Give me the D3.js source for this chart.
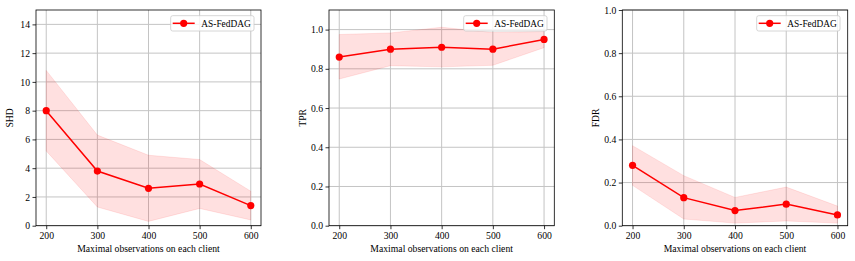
<!DOCTYPE html>
<html><head><meta charset="utf-8">
<script src="https://cdn.jsdelivr.net/npm/d3@7"></script>
<style>body{margin:0;background:#fff}svg{display:block}svg text{font-family:"Liberation Serif","Times New Roman",serif !important;fill:#000}</style>
</head><body><svg id="c" width="855" height="261"></svg>
<script>
const xValues = [200, 300, 400, 500, 600];
const seriesName = "AS-FedDAG";
const shdMean = [8.0, 3.8, 2.6, 2.9, 1.4];
const shdUpper = [10.8, 6.3, 4.9, 4.6, 2.4];
const shdLower = [5.2, 1.3, 0.3, 1.2, 0.4];
const tprMean = [0.86, 0.90, 0.91, 0.90, 0.95];
const tprUpper = [0.975, 0.983, 1.012, 0.985, 0.99];
const tprLower = [0.748, 0.816, 0.81, 0.818, 0.908];
const fdrMean = [0.28, 0.13, 0.07, 0.10, 0.05];
const fdrUpper = [0.371, 0.232, 0.131, 0.179, 0.091];
const fdrLower = [0.187, 0.031, 0.012, 0.022, 0.012];
const shdTicks = [0, 2, 4, 6, 8, 10, 12, 14];
const tprTicks = [0.0, 0.2, 0.4, 0.6, 0.8, 1.0];
const fdrTicks = [0.0, 0.2, 0.4, 0.6, 0.8, 1.0];
const xLabel = "Maximal observations on each client";

const FS = 9.7;
const panels = [
  {left:36, right:261, ymax:15, label:"SHD", mean:shdMean, up:shdUpper, lo:shdLower, ticks:shdTicks, fmt:d3.format("d"), labelX:10, legendRight:254},
  {left:329, right:554.3, ymax:1.1, label:"TPR", mean:tprMean, up:tprUpper, lo:tprLower, ticks:tprTicks, fmt:d3.format(".1f"), labelX:303, legendRight:547},
  {left:622.3, right:847.7, ymax:1.0, label:"FDR", mean:fdrMean, up:fdrUpper, lo:fdrLower, ticks:fdrTicks, fmt:d3.format(".1f"), labelX:596, legendRight:840}
];
const plotTop = 10, plotBottom = 225.7;
const svg = d3.select("#c");

panels.forEach(p => {
  const x = d3.scaleLinear().domain([180, 620]).range([p.left, p.right]);
  const y = d3.scaleLinear().domain([0, p.ymax]).range([plotBottom, plotTop]);
  const g = svg.append("g");
  const clipId = "clip" + p.label;
  svg.append("clipPath").attr("id", clipId).append("rect")
    .attr("x", p.left).attr("y", plotTop).attr("width", p.right - p.left).attr("height", plotBottom - plotTop);

  g.selectAll(".gx").data(xValues).enter().append("line")
    .attr("x1", d => x(d)).attr("x2", d => x(d)).attr("y1", plotTop).attr("y2", plotBottom)
    .attr("stroke", "#c4c4c4").attr("stroke-width", 1);
  g.selectAll(".gy").data(p.ticks).enter().append("line")
    .attr("x1", p.left).attr("x2", p.right).attr("y1", d => y(d)).attr("y2", d => y(d))
    .attr("stroke", "#c4c4c4").attr("stroke-width", 1);

  const pts = xValues.map((v, i) => ({x: v, m: p.mean[i], u: p.up[i], l: p.lo[i]}));
  const area = d3.area().x(d => x(d.x)).y0(d => y(d.l)).y1(d => y(d.u));
  g.append("path").datum(pts).attr("d", area)
    .attr("fill", "rgb(255,0,0)").attr("fill-opacity", 0.12)
    .attr("stroke", "rgb(255,0,0)").attr("stroke-opacity", 0.12).attr("stroke-width", 0.8)
    .attr("clip-path", `url(#${clipId})`);
  const line = d3.line().x(d => x(d.x)).y(d => y(d.m));
  g.append("path").datum(pts).attr("d", line).attr("fill", "none")
    .attr("stroke", "red").attr("stroke-width", 1.5);
  g.selectAll(".pt").data(pts).enter().append("circle")
    .attr("cx", d => x(d.x)).attr("cy", d => y(d.m)).attr("r", 3.6).attr("fill", "red");

  const xa = svg.append("g").attr("transform", `translate(0,${plotBottom})`)
    .call(d3.axisBottom(x).tickValues(xValues).tickSize(3.5).tickPadding(2.5).tickSizeOuter(0));
  const ya = svg.append("g").attr("transform", `translate(${p.left},0)`)
    .call(d3.axisLeft(y).tickValues(p.ticks).tickFormat(p.fmt).tickSize(3.5).tickPadding(2.5).tickSizeOuter(0));
  [xa, ya].forEach(a => {
    a.attr("font-family", null).attr("font-size", FS);
    a.select(".domain").remove();
    a.selectAll("line").attr("stroke", "#000").attr("stroke-width", 0.8);
    a.selectAll("text").attr("fill", "#000");
  });
  svg.append("rect").attr("x", p.left).attr("y", plotTop).attr("width", p.right - p.left).attr("height", plotBottom - plotTop)
    .attr("fill", "none").attr("stroke", "#000").attr("stroke-width", 0.8);

  svg.append("text").attr("x", (p.left + p.right) / 2).attr("y", 252).attr("text-anchor", "middle")
    .attr("font-size", FS).text(xLabel);
  svg.append("text").attr("transform", `translate(${p.labelX + 3.3},${(plotTop + plotBottom) / 2}) rotate(-90)`)
    .attr("text-anchor", "middle").attr("font-size", FS).text(p.label);

  const lw = 83.3, lx = p.legendRight - lw;
  const lg = svg.append("g");
  lg.append("rect").attr("x", lx).attr("y", 15.7).attr("width", lw).attr("height", 15.3).attr("rx", 2)
    .attr("fill", "#fff").attr("fill-opacity", 0.8).attr("stroke", "#ccc").attr("stroke-width", 0.8);
  lg.append("line").attr("x1", lx + 2).attr("x2", lx + 24).attr("y1", 23.3).attr("y2", 23.3)
    .attr("stroke", "red").attr("stroke-width", 1.5);
  lg.append("circle").attr("cx", lx + 13).attr("cy", 23.3).attr("r", 3.6).attr("fill", "red");
  lg.append("text").attr("x", lx + 30.6).attr("y", 26.6).attr("font-size", 9.4).text(seriesName);
});
</script></body></html>
